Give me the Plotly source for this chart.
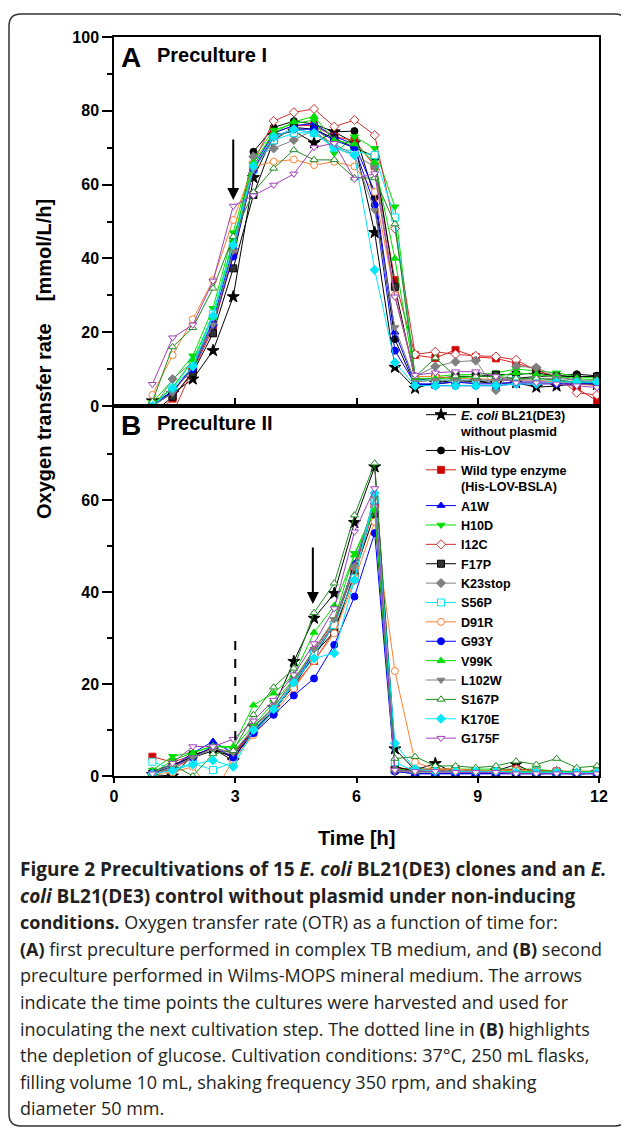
import plotly.graph_objects as go

# ---------------- data ----------------
time_h = [0.95, 1.45, 1.95, 2.45, 2.95, 3.45, 3.95, 4.45, 4.95, 5.45, 5.95, 6.45,
          6.95, 7.45, 7.95, 8.45, 8.95, 9.45, 9.95, 10.45, 10.95, 11.45, 11.95]

strain_names = ["<i>E. coli</i> BL21(DE3)<br>without plasmid", "His-LOV",
                "Wild type enzyme<br>(His-LOV-BSLA)", "A1W", "H10D", "I12C", "F17P",
                "K23stop", "S56P", "D91R", "G93Y", "V99K", "L102W", "S167P", "K170E", "G175F"]

# Panel A: Preculture I (OTR, mmol/L/h)
a_ecoli = [1.4, 3.4, 7.3, 15.0, 29.6, 61.9, 73.2, 74.5, 71.3, 74.3, 71.3, 47.0, 10.5, 4.8, 6.3, 7.0, 6.6, 6.1, 6.3, 5.1, 5.4, 6.1, 5.8]
a_hislov = [0.5, 4.0, 10.5, 22.0, 42.0, 68.9, 75.5, 77.2, 76.4, 74.3, 74.5, 56.5, 18.1, 5.5, 6.0, 6.5, 6.5, 7.0, 7.5, 8.0, 8.2, 8.6, 8.2]
a_wt = [-3.0, 2.0, 9.5, 21.0, 41.0, 64.0, 74.0, 76.0, 76.0, 73.0, 72.0, 65.0, 34.1, 13.8, 13.0, 15.2, 13.3, 12.9, 11.6, 9.9, 7.4, 4.8, 1.4]
a_a1w = [0.0, 3.5, 11.0, 23.0, 43.0, 65.0, 74.0, 76.0, 76.5, 73.0, 71.0, 58.0, 20.0, 6.0, 6.0, 6.5, 6.0, 6.0, 6.5, 6.5, 6.5, 6.5, 6.0]
a_h10d = [1.0, 7.0, 13.6, 26.5, 47.0, 67.1, 74.8, 76.5, 77.5, 68.5, 73.0, 69.8, 54.0, 8.0, 8.0, 8.5, 8.5, 9.0, 10.0, 9.5, 9.0, 8.0, 7.5]
a_i12c = [0.5, -2.0, 10.0, 22.0, 42.0, 66.0, 77.2, 79.6, 80.5, 75.7, 77.5, 73.4, 48.1, 14.0, 14.7, 14.0, 13.6, 13.4, 12.5, 9.6, 7.9, 3.6, 3.0]
a_f17p = [-2.0, 2.5, 9.0, 19.7, 37.3, 57.2, 72.0, 75.5, 75.0, 72.5, 70.0, 67.6, 32.3, 7.0, 7.5, 8.0, 8.0, 8.5, 8.5, 9.0, 8.0, 8.0, 8.0]
a_k23stop = [-1.0, 7.3, 12.0, 22.0, 42.0, 67.6, 69.8, 72.1, 74.8, 70.0, 68.0, 64.9, 30.0, 8.0, 10.7, 12.0, 12.3, 4.3, 10.8, 10.4, 8.0, 7.0, 6.0]
a_s56p = [0.0, 5.0, 12.0, 25.0, 45.0, 64.0, 72.0, 74.0, 74.0, 70.0, 69.0, 68.0, 51.1, 7.0, 7.0, 7.0, 7.0, 7.0, 7.0, 7.0, 7.0, 6.5, 6.5]
a_d91r = [3.0, 13.8, 23.5, 34.1, 50.4, 64.9, 66.2, 66.8, 65.3, 66.2, 64.9, 58.0, 30.0, 8.0, 8.0, 7.5, 7.5, 7.0, 7.0, 7.0, 6.5, 6.0, 5.5]
a_g93y = [0.0, 4.0, 10.0, 22.0, 40.5, 64.0, 73.0, 75.0, 75.0, 72.0, 70.0, 54.5, 15.0, 6.0, 5.5, 5.5, 5.5, 5.5, 6.0, 6.0, 6.0, 6.0, 6.0]
a_v99k = [0.5, 5.0, 12.5, 24.0, 45.0, 66.0, 74.0, 77.0, 78.5, 72.0, 71.0, 66.0, 40.0, 7.5, 7.5, 7.5, 8.0, 8.0, 9.0, 8.5, 8.0, 7.5, 7.0]
a_l102w = [0.0, 3.5, 10.5, 22.0, 42.0, 64.0, 72.5, 75.0, 74.0, 71.0, 68.0, 53.0, 21.3, 6.5, 7.0, 7.0, 7.0, 7.0, 7.0, 7.5, 7.5, 7.0, 7.0]
a_s167p = [1.2, 16.0, 21.2, 31.9, 45.9, 58.0, 64.4, 69.4, 66.7, 66.7, 61.8, 61.8, 49.3, 7.9, 13.0, 8.1, 8.0, 8.0, 7.5, 7.5, 7.0, 6.5, 6.5]
a_k170e = [0.0, 4.8, 10.7, 24.4, 43.6, 65.0, 73.0, 75.0, 74.0, 70.0, 68.0, 36.9, 11.8, 5.5, 5.5, 5.5, 5.5, 5.5, 6.0, 6.0, 6.5, 6.5, 6.5]
a_g175f = [5.9, 18.5, 22.0, 33.9, 54.2, 57.0, 59.9, 62.9, 70.1, 71.2, 61.5, 63.0, 29.6, 8.4, 9.0, 9.3, 9.3, 8.0, 6.3, 6.3, 6.0, 5.5, 5.0]

# Panel B: Preculture II (OTR, mmol/L/h)
b_ecoli = [0.3, 0.0, 4.5, 6.0, 3.3, 10.7, 14.9, 24.9, 34.3, 39.7, 55.1, 67.2, 5.9, 1.3, 2.7, 0.6, 0.7, 1.1, 2.5, 0.4, 0.7, 0.4, 0.7]
b_hislov = [1.0, 2.5, 4.0, 5.5, 4.5, 10.0, 14.0, 20.0, 26.0, 33.0, 45.0, 60.0, 2.0, 1.0, 1.0, 1.0, 0.8, 0.8, 0.8, 0.8, 0.7, 0.7, 0.7]
b_wt = [4.2, 3.0, 4.5, 6.0, 4.0, 10.0, 14.5, 19.5, 25.0, 31.5, 43.5, 59.0, 1.5, 1.2, 1.0, 1.5, 1.0, 1.0, 1.5, 1.2, 1.0, 1.0, 1.0]
b_a1w = [0.5, 2.0, 5.0, 7.5, 5.0, 10.0, 14.0, 20.0, 27.0, 33.0, 46.2, 59.5, 1.0, 0.5, 0.5, 0.5, 0.5, 0.5, 0.5, 0.5, 0.5, 0.5, 0.5]
b_h10d = [1.3, 4.3, 5.1, 6.5, 6.0, 11.0, 16.0, 21.0, 27.5, 34.0, 48.4, 58.0, 1.5, 1.5, 1.5, 1.5, 1.5, 1.5, 1.5, 1.5, 1.0, 1.0, 1.0]
b_i12c = [0.5, 1.5, 4.0, 6.0, 5.0, 9.5, 14.0, 20.5, 27.5, 33.5, 45.0, 58.5, 1.8, 1.5, 1.5, 1.5, 1.2, 1.2, 1.5, 1.2, 1.0, 1.0, 1.0]
b_f17p = [0.5, 2.0, 4.5, 6.0, 4.0, 9.5, 14.5, 19.5, 26.5, 31.4, 44.0, 57.0, 2.0, 1.0, 1.0, 1.0, 1.0, 0.8, 0.8, 0.8, 0.8, 0.8, 0.8]
b_k23stop = [0.3, 2.0, 4.0, 6.0, 5.3, 10.0, 15.0, 21.0, 27.0, 33.0, 45.5, 60.0, 1.0, 1.0, 1.0, 1.0, 1.0, 1.0, 1.0, 1.0, 0.8, 0.8, 0.8]
b_s56p = [3.1, 1.5, 2.8, 1.3, 3.0, 9.5, 14.0, 20.0, 26.5, 32.8, 43.0, 60.0, 3.0, 1.0, 1.0, 1.0, 1.0, 1.0, 1.0, 1.0, 0.8, 0.8, 0.8]
b_d91r = [0.5, 0.8, 2.0, -4.0, 3.5, 8.9, 13.5, 19.0, 25.0, 31.0, 42.5, 55.3, 22.8, 3.0, 1.5, 1.5, 1.2, 1.2, 1.2, 1.0, 1.0, 1.0, 1.0]
b_g93y = [0.6, 2.0, 4.0, 6.5, 4.0, 9.3, 13.3, 17.5, 21.2, 28.5, 39.0, 52.8, 1.0, 0.5, 0.5, 0.5, 0.5, 0.5, 0.5, 0.5, 0.5, 0.5, 0.5]
b_v99k = [0.5, 3.5, 5.0, 6.5, 6.4, 15.4, 18.0, 22.0, 31.2, 37.0, 48.0, 57.8, 1.5, 1.0, 1.0, 1.0, 1.0, 1.0, 1.0, 1.0, 1.0, 1.0, 1.0]
b_l102w = [0.3, 2.0, 4.0, 6.0, 5.0, 10.5, 15.0, 20.5, 27.5, 34.0, 45.5, 60.5, 1.0, 0.8, 0.8, 0.8, 0.8, 0.8, 0.8, 0.8, 0.8, 0.8, 0.8]
b_s167p = [0.5, 2.5, 0.0, 4.8, 5.5, 13.3, 19.3, 23.4, 35.5, 41.9, 56.7, 68.0, 3.8, 4.2, 2.2, 2.2, 1.8, 2.2, 3.2, 2.5, 3.8, 1.8, 2.2]
b_k170e = [0.5, 1.2, 2.5, 3.4, 2.0, 10.0, 14.5, 20.3, 25.6, 26.7, 42.6, 61.5, 7.1, 1.5, 1.0, 1.0, 1.0, 1.0, 0.8, 0.8, 0.8, 0.8, 0.8]
b_g175f = [0.5, 2.8, 6.4, 6.4, 8.0, 12.0, 16.5, 22.0, 28.8, 36.4, 53.1, 62.5, 1.3, 1.0, 1.0, 0.8, 0.8, 0.8, 0.5, 0.5, 0.5, 0.5, 0.5]

# harvest arrows / glucose depletion line (data coordinates)
arrow_a = dict(t=2.95, y_from=72.6, y_to=55.8)
arrow_b = dict(t=4.92, y_from=50.0, y_to=37.4)
glucose_line = dict(t=3.0, y_from=7.8, y_to=30.4)

x_ticks = [0, 3, 6, 9, 12]
ya_ticks = [0, 20, 40, 60, 80, 100]
yb_ticks = [0, 20, 40, 60]

panel_a = [a_ecoli, a_hislov, a_wt, a_a1w, a_h10d, a_i12c, a_f17p, a_k23stop,
           a_s56p, a_d91r, a_g93y, a_v99k, a_l102w, a_s167p, a_k170e, a_g175f]
panel_b = [b_ecoli, b_hislov, b_wt, b_a1w, b_h10d, b_i12c, b_f17p, b_k23stop,
           b_s56p, b_d91r, b_g93y, b_v99k, b_l102w, b_s167p, b_k170e, b_g175f]

# ---------------- styles ----------------
# (line colour, symbol, fill colour)
styles = [
    ("#000000", "star", "#000000"),
    ("#000000", "circle", "#000000"),
    ("#e02020", "square", "#cc0000"),
    ("#0000ff", "triangle-up", "#0000ff"),
    ("#00e000", "triangle-down", "#00e000"),
    ("#d03030", "diamond", "#ffffff"),
    ("#000000", "square", "#333333"),
    ("#808080", "diamond", "#808080"),
    ("#00e8f8", "square", "#ffffff"),
    ("#ff8030", "circle", "#ffffff"),
    ("#0000ff", "circle", "#0000ff"),
    ("#00e000", "triangle-up", "#00e000"),
    ("#808080", "triangle-down", "#808080"),
    ("#208a20", "triangle-up", "#ffffff"),
    ("#00e8f8", "diamond", "#00e8f8"),
    ("#a040b8", "triangle-down", "#ffffff"),
]

# the page body has an 8px margin: work in window pixels, shift into figure pixels
OFF = 8
W, H = 629 - OFF, 1132 - OFF
L, T = 114 - OFF, 37 - OFF
R = W - (599 - OFF)
B = H - (776 - OFF)
PW, PH = W - L - R, H - T - B


def px2x(px):
    return (px - OFF - L) / PW


def px2y(py):
    return (H - B - (py - OFF)) / PH


split = px2y(406)
FONT = "Liberation Sans, Arial, sans-serif"

fig = go.Figure()
for panel, (xa, ya, show) in ((panel_a, ("x", "y", False)), (panel_b, ("x2", "y2", True))):
    for name, vals, (lc, sym, fc) in zip(strain_names, panel, styles):
        fig.add_trace(go.Scatter(
            x=time_h, y=vals, name=name, mode="lines+markers",
            xaxis=xa, yaxis=ya, showlegend=show,
            line=dict(color=lc, width=1),
            marker=dict(symbol=sym, size=7 if sym != "star" else 9, color=fc,
                        line=dict(color=lc, width=1)),
        ))

axis_common = dict(showline=True, linecolor="black", linewidth=1.5, mirror=True,
                   showgrid=False, zeroline=False,
                   tickfont=dict(family=FONT, size=16, color="black", weight="bold"))

fig.update_layout(
    width=W, height=H, autosize=False,
    margin=dict(l=L, r=R, t=T, b=B),
    paper_bgcolor="white", plot_bgcolor="white",
    xaxis=dict(domain=[0, 1], anchor="y", range=[0, 12], tickvals=x_ticks,
               showticklabels=False, ticks="inside", ticklen=8, tickwidth=1.5,
               tickcolor="black", **axis_common),
    yaxis=dict(domain=[split, 1], anchor="x", range=[0, 100], tickvals=ya_ticks,
               ticks="outside", ticklen=10, tickwidth=1.5, tickcolor="black",
               minor=dict(dtick=10, tick0=0, ticks="outside", ticklen=5,
                          tickwidth=1.5, tickcolor="black"), **axis_common),
    xaxis2=dict(domain=[0, 1], anchor="y2", range=[0, 12], tickvals=x_ticks,
                ticks="outside", ticklen=5, tickwidth=1.5, tickcolor="black",
                **axis_common),
    yaxis2=dict(domain=[0, split], anchor="x2", range=[0, (776 - 406) / 4.6],
                tickvals=yb_ticks, ticks="outside", ticklen=10, tickwidth=1.5,
                tickcolor="black",
                minor=dict(tickvals=[10, 30, 50, 70], ticks="outside", ticklen=5,
                           tickwidth=1.5, tickcolor="black"), **axis_common),
    legend=dict(x=px2x(421), y=px2y(400), xanchor="left", yanchor="top",
                bgcolor="rgba(0,0,0,0)", borderwidth=0, valign="top",
                font=dict(family=FONT, size=12.6, color="black", weight="bold")),
)

# arrows and glucose line
fig.add_annotation(x=arrow_a["t"], y=arrow_a["y_to"], ax=arrow_a["t"], ay=arrow_a["y_from"],
                   xref="x", yref="y", axref="x", ayref="y", showarrow=True,
                   arrowhead=2, arrowsize=1.2, arrowwidth=2, arrowcolor="black", text="")
fig.add_annotation(x=arrow_b["t"], y=arrow_b["y_to"], ax=arrow_b["t"], ay=arrow_b["y_from"],
                   xref="x2", yref="y2", axref="x2", ayref="y2", showarrow=True,
                   arrowhead=2, arrowsize=1.2, arrowwidth=2, arrowcolor="black", text="")
fig.add_shape(type="line", xref="x2", yref="y2", x0=glucose_line["t"], x1=glucose_line["t"],
              y0=glucose_line["y_from"], y1=glucose_line["y_to"],
              line=dict(color="black", width=2, dash="dash"))


def txt(px, py, text, size, anchor="left", family=FONT, color="black", **kw):
    fig.add_annotation(x=px2x(px), y=px2y(py), xref="paper", yref="paper", text=text,
                       showarrow=False, xanchor=anchor, yanchor="middle",
                       font=dict(family=family, size=size, color=color, **kw))


# panel titles
txt(119, 57, "A", 28, weight="bold")
txt(155, 55, "Preculture I", 20, weight="bold")
txt(119, 425, "B", 28, weight="bold")
txt(155, 423, "Preculture II", 20, weight="bold")

# axis titles
fig.add_annotation(x=px2x(44), y=px2y(359), xref="paper", yref="paper",
                   text="Oxygen transfer rate\u00a0\u00a0\u00a0\u00a0[mmol/L/h]", textangle=-90,
                   showarrow=False, xanchor="center", yanchor="middle",
                   font=dict(family=FONT, size=20, color="black", weight="bold"))
txt(356, 838, "Time [h]", 20, anchor="center", weight="bold")

# caption
caption_lines = [
    "<b>Figure 2 Precultivations of 15 <i>E. coli</i> BL21(DE3) clones and an <i>E.</i></b>",
    "<b><i>coli</i> BL21(DE3) control without plasmid under non-inducing</b>",
    "<b>conditions.</b> Oxygen transfer rate (OTR) as a function of time for:",
    "<b>(A)</b> first preculture performed in complex TB medium, and <b>(B)</b> second",
    "preculture performed in Wilms-MOPS mineral medium. The arrows",
    "indicate the time points the cultures were harvested and used for",
    "inoculating the next cultivation step. The dotted line in <b>(B)</b> highlights",
    "the depletion of glucose. Cultivation conditions: 37°C, 250 mL flasks,",
    "filling volume 10 mL, shaking frequency 350 rpm, and shaking",
    "diameter 50 mm.",
]
caption_sizes = [19.0, 19.0, 18.0, 18.0, 18.0, 18.0, 18.0, 18.0, 18.0, 18.0]
for i, (line, sz) in enumerate(zip(caption_lines, caption_sizes)):
    txt(18, 869 + 26.6 * i, line, sz, family="Open Sans, Noto Sans, sans-serif",
        color="#231f20")

# rounded figure border
x0, x1, y0, y1, r = 9, 627, 14, 1126, 12
X = px2x
Y = px2y
path = (f"M{X(x0 + r)},{Y(y0)} L{X(x1 - r)},{Y(y0)} Q{X(x1)},{Y(y0)} {X(x1)},{Y(y0 + r)} "
        f"L{X(x1)},{Y(y1 - r)} Q{X(x1)},{Y(y1)} {X(x1 - r)},{Y(y1)} "
        f"L{X(x0 + r)},{Y(y1)} Q{X(x0)},{Y(y1)} {X(x0)},{Y(y1 - r)} "
        f"L{X(x0)},{Y(y0 + r)} Q{X(x0)},{Y(y0)} {X(x0 + r)},{Y(y0)} Z")
fig.add_shape(type="path", xref="paper", yref="paper", path=path,
              line=dict(color="#333333", width=1.5), layer="below")

fig.write_html("out.html")
